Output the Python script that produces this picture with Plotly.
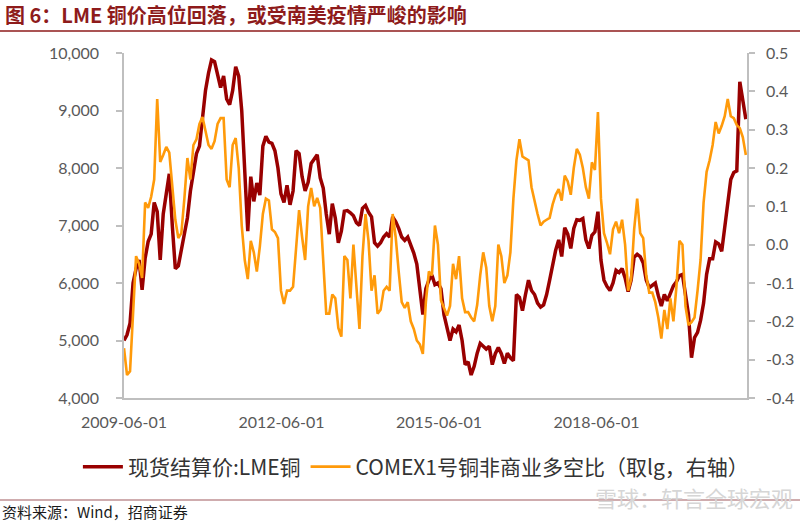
import pandas as pd
import plotly.graph_objects as go

START_DATE = "2009-06-01"
STEP = "21D"

lme_copper = [
    5000, 5100, 5300, 6000, 6250, 6400, 5880, 6430, 6720, 6850,
    7400, 7240, 6400, 7200, 7550, 7900, 7000, 6250, 6300, 6580,
    6800, 7130, 7600, 7930, 8250, 8380, 8900, 9350, 9650, 9880,
    9850, 9650, 9400, 9600, 9200, 9100, 9350, 9760, 9600, 9000,
    8000, 6900, 7850, 7420, 7740, 7530, 8380, 8550, 8450, 8430,
    8300, 8000, 7550, 7400, 7700, 7360, 7600, 8300, 8250, 7850,
    7600, 7750, 8080, 8150, 8230, 7830, 7650, 7200, 6850, 7380,
    7130, 6700, 6900, 7250, 7260, 7220, 7170, 7050, 7000, 7300,
    7350, 7230, 7150, 6700, 6640, 6700, 6800, 6860, 6800, 7150,
    7070, 6950, 6800, 6740, 6800, 6660, 6520, 6330, 5900, 5450,
    5900, 6050, 6140, 5970, 6000, 5900, 5450, 5200, 5000, 5200,
    5150, 5270, 5000, 4580, 4630, 4400, 4550, 4780, 4950, 4900,
    4850, 4900, 4580, 4770, 4880, 4770, 4600, 4780, 4700, 4650,
    5800, 5750, 5520, 5800, 6050, 5870, 5800, 5650, 5580, 5620,
    5800, 6050, 6330, 6570, 6750, 6460, 6960, 6850, 6600, 6950,
    7100, 7090, 7120, 6750, 6600, 6830, 6890, 7240, 6400, 6050,
    5940, 5870, 6000, 6220, 6180, 6250, 6090, 5850, 6050, 6450,
    6500, 6460, 6350, 6050, 5920, 5970, 6000, 5780, 5600, 5800,
    5690, 5820, 5950, 6020, 6130, 6150, 5770, 5450, 4700, 5050,
    5140, 5350, 5650, 6150, 6420, 6420, 6715, 6680, 6550, 7000,
    7380, 7800, 7920, 7950, 9500, 9150, 8850,
]

comex_ratio_lg = [
    -0.27, -0.34, -0.33, -0.16, -0.03, -0.05, -0.087, 0.11, 0.096, 0.125,
    0.17, 0.38, 0.216, 0.234, 0.255, 0.24, 0.15, 0.065, 0.017, 0.03,
    0.12, 0.226, 0.17, 0.26, 0.275, 0.315, 0.333, 0.30, 0.26, 0.25,
    0.27, 0.315, 0.33, 0.33, 0.17, 0.15, 0.26, 0.278, 0.20, 0.05,
    -0.04, -0.09, 0.01, -0.02, -0.07, -0.005, 0.08, 0.12, 0.115, 0.04,
    0.033, 0.017, -0.12, -0.155, -0.12, -0.12, -0.11, -0.01, 0.09, 0.02,
    -0.04, 0.10, 0.148, 0.10, 0.122, 0.096, -0.03, -0.18, -0.18, -0.13,
    -0.14, -0.217, -0.24, -0.03, -0.04, -0.14, 0.0, -0.12, -0.22, -0.03,
    0.08, 0.01, -0.12, -0.08, -0.18, -0.17, -0.12, -0.11, -0.12, 0.08,
    0.02, -0.07, -0.15, -0.165, -0.15, -0.2, -0.22, -0.25, -0.26, -0.285,
    -0.15, -0.07, -0.08, 0.05, 0.0, -0.145, -0.165, -0.185, -0.16, -0.05,
    -0.09, -0.03, -0.14, -0.176, -0.176, -0.19, -0.2, -0.157, -0.08, -0.02,
    -0.06, -0.16, -0.2, -0.16, 0.0, -0.03, -0.1, -0.08, -0.02, 0.12,
    0.22, 0.275, 0.23, 0.225, 0.22, 0.15, 0.11, 0.08, 0.05, 0.06,
    0.065, 0.07, 0.105, 0.13, 0.145, 0.115, 0.18, 0.165, 0.13, 0.2,
    0.25, 0.235, 0.20, 0.15, 0.12, 0.215, 0.195, 0.346, 0.12, 0.03,
    0.005, -0.025, 0.04, 0.06, 0.03, 0.065, 0.0, -0.12, -0.09, 0.04,
    0.12, 0.03, 0.017, -0.08, -0.125, -0.125, -0.15, -0.19, -0.245, -0.17,
    -0.22, -0.14, -0.2, -0.11, 0.01, 0.0, -0.16, -0.21, -0.202, -0.19,
    -0.12, -0.04, 0.11, 0.19, 0.22, 0.26, 0.32, 0.29, 0.31, 0.335,
    0.38, 0.335, 0.33, 0.312, 0.304, 0.28, 0.234,
]

x_tick_labels = ["2009-06-01", "2012-06-01", "2015-06-01", "2018-06-01"]
x_range = ["2009-06-01", "2021-04-13"]
left_ticks = [4000, 5000, 6000, 7000, 8000, 9000, 10000]
right_ticks = [-0.4, -0.3, -0.2, -0.1, 0.0, 0.1, 0.2, 0.3, 0.4, 0.5]

name_lme = "现货结算价:LME铜"
name_comex = "COMEX1号铜非商业多空比（取lg，右轴）"
title_text = "图 6：LME 铜价高位回落，或受南美疫情严峻的影响"
source_text = "资料来源：Wind，招商证券"
watermark_text = "雪球：轩言全球宏观"

dates = pd.date_range(START_DATE, periods=len(lme_copper), freq=STEP)

# ---- figure ----
DARK_RED = "#990000"
ORANGE = "#FF9A0A"
AXIS_GREY = "#BFBFBF"
TICK_FONT = dict(family="Lato, Open Sans, sans-serif", size=16, color="#595959")
CJK = "Noto Sans CJK SC"

fig = go.Figure()
fig.add_trace(go.Scatter(x=dates, y=lme_copper, name=name_lme, mode="lines",
                         line=dict(color=DARK_RED, width=3.5), yaxis="y"))
fig.add_trace(go.Scatter(x=dates, y=comex_ratio_lg, name=name_comex, mode="lines",
                         line=dict(color=ORANGE, width=2.6), yaxis="y2"))

fig.update_layout(
    width=800, height=523,
    margin=dict(l=124, r=53, t=53, b=125, autoexpand=False),
    paper_bgcolor="white", plot_bgcolor="white",
    showlegend=True,
    legend=dict(orientation="h", x=-0.074, xanchor="left", y=-0.2, yanchor="middle",
                font=dict(family=CJK, size=21, color="#333333"),
                bgcolor="rgba(0,0,0,0)", itemwidth=40, traceorder="normal"),
    title=dict(text=title_text, xref="container", yref="container", x=5 / 800, xanchor="left",
               y=1 - 16 / 523, yanchor="middle",
               font=dict(family=CJK, size=20, color="#8E1B1B", weight="bold")),
    xaxis=dict(type="date", range=x_range, tickvals=x_tick_labels, ticktext=x_tick_labels,
               showgrid=False, zeroline=False, showline=True, linecolor=AXIS_GREY, linewidth=1.5,
               ticks="", tickfont=TICK_FONT, ticklabelstandoff=9),
    yaxis=dict(range=[left_ticks[0], left_ticks[-1]], tickvals=left_ticks,
               ticktext=[f"{v:,}" for v in left_ticks],
               showgrid=False, zeroline=False, showline=True, linecolor=AXIS_GREY, linewidth=1.5,
               ticks="outside", ticklen=6, tickcolor=AXIS_GREY, tickwidth=1.5,
               tickfont=TICK_FONT, ticklabelstandoff=14),
    yaxis2=dict(range=[right_ticks[0], right_ticks[-1]], tickvals=right_ticks,
                ticktext=[f"{v:.1f}" for v in right_ticks],
                overlaying="y", side="right",
                showgrid=False, zeroline=False, showline=True, linecolor=AXIS_GREY, linewidth=1.5,
                ticks="outside", ticklen=6, tickcolor=AXIS_GREY, tickwidth=1.5,
                tickfont=TICK_FONT, ticklabelstandoff=8),
)

# title underline and footer separator
fig.add_shape(type="line", xref="paper", yref="paper", x0=-0.2, x1=1.09,
              y0=(398 - 31) / 345, y1=(398 - 31) / 345,
              line=dict(color="#8E1B1B", width=1.6))
fig.add_shape(type="line", xref="paper", yref="paper", x0=-0.2, x1=1.09,
              y0=(398 - 500) / 345, y1=(398 - 500) / 345,
              line=dict(color="#A05A5F", width=1.2))

fig.add_annotation(text=watermark_text, xref="paper", yref="paper",
                   x=(795 - 124) / 623, y=(398 - 497) / 345, xanchor="right", yanchor="middle",
                   showarrow=False, font=dict(family=CJK, size=22, color="#D6D6D6"))
fig.add_annotation(text=source_text, xref="paper", yref="paper",
                   x=(0 - 124) / 623, y=(398 - 511) / 345, xanchor="left", yanchor="middle",
                   showarrow=False, font=dict(family=CJK, size=15, color="#1a1a1a"))

fig.write_html("out.html", config={"displayModeBar": False},
               post_script="document.body.style.margin='0px';")
